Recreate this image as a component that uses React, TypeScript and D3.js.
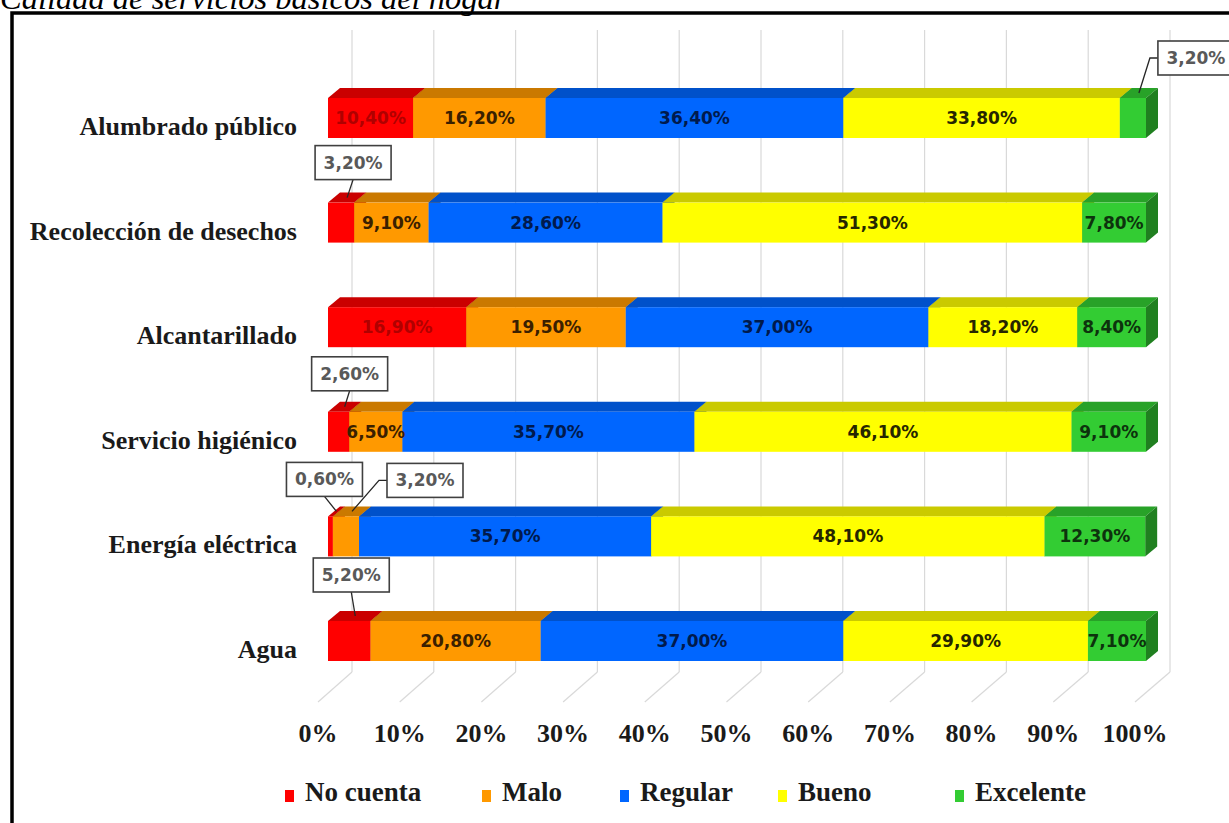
import React from "react";
import * as d3 from "d3";

const categories = [
  "Alumbrado público",
  "Recolección de desechos",
  "Alcantarillado",
  "Servicio higiénico",
  "Energía eléctrica",
  "Agua",
];
const seriesNames = ["No cuenta", "Malo", "Regular", "Bueno", "Excelente"];
const noCuenta = [10.4, 3.2, 16.9, 2.6, 0.6, 5.2];
const malo = [16.2, 9.1, 19.5, 6.5, 3.2, 20.8];
const regular = [36.4, 28.6, 37.0, 35.7, 35.7, 37.0];
const bueno = [33.8, 51.3, 18.2, 46.1, 48.1, 29.9];
const excelente = [3.2, 7.8, 8.4, 9.1, 12.3, 7.1];
const tickValues = [0, 10, 20, 30, 40, 50, 60, 70, 80, 90, 100];
const tickLabels = ["0%", "10%", "20%", "30%", "40%", "50%", "60%", "70%", "80%", "90%", "100%"];
const title = "Calidad de servicios básicos del hogar";

const colors = ["#FF0000", "#FF9900", "#0066FF", "#FFFF00", "#33CC33"];
const labelColors = ["#B00000", "#3A2000", "#001A4D", "#262600", "#0D330D"];

// callouts (labels placed outside the bar): category index, series index, box offset from anchor
const callouts = [
  { c: 0, s: 4, dx: 19, dy: -52 },
  { c: 1, s: 0, dx: -32, dy: -52 },
  { c: 3, s: 0, dx: -33, dy: -50 },
  { c: 4, s: 0, dx: -50, dy: -49 },
  { c: 4, s: 1, dx: 35, dy: -48 },
  { c: 5, s: 0, dx: -42, dy: -58 },
];

const legendX = [285, 482, 620, 778, 955];

const fmt = (v: number) => v.toFixed(2).replace(".", ",") + "%";

export default function App() {
  const W = 1229;
  const H = 823;
  const xBar = d3.scaleLinear().domain([0, 100]).range([328, 1146]);
  const xFloor = d3.scaleLinear().domain([0, 100]).range([318, 1135]);
  const xBack = d3.scaleLinear().domain([0, 100]).range([352, 1170]);
  const yRow = d3.scalePoint<string>().domain(categories).range([118, 641]);
  const barH = 40;
  const dX = 12;
  const dY = 10;

  const table = categories.map((c, i) => ({
    cat: c,
    "No cuenta": noCuenta[i],
    Malo: malo[i],
    Regular: regular[i],
    Bueno: bueno[i],
    Excelente: excelente[i],
  }));
  const stacked = d3.stack<any>().keys(seriesNames)(table);

  const isCallout = (c: number, s: number) => callouts.some((k) => k.c === c && k.s === s);

  const serif = "'Liberation Serif', 'Times New Roman', serif";
  const sans = "'DejaVu Sans', Verdana, sans-serif";

  const bars: React.ReactNode[] = [];
  const inLabels: React.ReactNode[] = [];
  categories.forEach((cat, ci) => {
    const yTop = (yRow(cat) as number) - barH / 2;
    stacked.forEach((layer, si) => {
      const d = layer[ci];
      const x0 = xBar(d[0]);
      const x1 = xBar(d[1]);
      const col = colors[si];
      const top = d3.color(col)!.darker(0.65).formatHex();
      const side = d3.color(col)!.darker(1.3).formatHex();
      bars.push(
        <g key={`b-${ci}-${si}`}>
          <polygon
            points={`${x0},${yTop} ${x0 + dX},${yTop - dY} ${x1 + dX},${yTop - dY} ${x1},${yTop}`}
            fill={top}
          />
          <polygon
            points={`${x1},${yTop} ${x1 + dX},${yTop - dY} ${x1 + dX},${yTop - dY + barH} ${x1},${yTop + barH}`}
            fill={side}
          />
          <rect x={x0} y={yTop} width={Math.max(0, x1 - x0)} height={barH} fill={col} />
        </g>
      );
      if (!isCallout(ci, si)) {
        inLabels.push(
          <text
            key={`l-${ci}-${si}`}
            x={(x0 + x1) / 2}
            y={yTop + barH / 2 + 6}
            textAnchor="middle"
            fontFamily={sans}
            fontWeight="bold"
            fontSize={17}
            fill={labelColors[si]}
          >
            {fmt(d[1] - d[0])}
          </text>
        );
      }
    });
  });

  const boxW = 76;
  const boxH = 34;
  const calloutNodes = callouts.map((k, i) => {
    const cat = categories[k.c];
    const d = stacked[k.s][k.c];
    const yTop = (yRow(cat) as number) - barH / 2;
    const ax = (xBar(d[0]) + xBar(d[1])) / 2 + dX / 2;
    const ay = yTop - dY / 2;
    const bx = ax + k.dx;
    const by = ay + k.dy;
    let pts: string;
    if (bx > ax) {
      pts = `${bx},${by + boxH / 2} ${bx - 8},${by + boxH / 2} ${ax},${ay}`;
    } else {
      pts = `${bx + boxW / 2},${by + boxH} ${ax},${ay}`;
    }
    return (
      <g key={`c-${i}`}>
        <polyline points={pts} fill="none" stroke="#262626" strokeWidth={1.3} />
        <rect x={bx} y={by} width={boxW} height={boxH} fill="#FFFFFF" stroke="#404040" strokeWidth={1.6} />
        <text
          x={bx + boxW / 2}
          y={by + boxH / 2 + 6}
          textAnchor="middle"
          fontFamily={sans}
          fontWeight="bold"
          fontSize={17}
          fill="#595959"
        >
          {fmt(d[1] - d[0])}
        </text>
      </g>
    );
  });

  return (
    <svg
      width={W}
      height={H}
      viewBox={`0 0 ${W} ${H}`}
      style={{ position: "absolute", left: 0, top: 0, background: "#fff" }}
    >
      <rect x={0} y={0} width={W} height={H} fill="#fff" />
      <text x={0} y={9} fontFamily={serif} fontStyle="italic" fontSize={32.5} fill="#000">
        {title}
      </text>
      <rect x={12} y={13} width={1400} height={1000} fill="none" stroke="#000" strokeWidth={3.5} />

      {/* gridlines: back wall + floor */}
      {tickValues.map((t) => (
        <g key={`g-${t}`}>
          <line x1={xBack(t)} y1={30} x2={xBack(t)} y2={672} stroke="#D9D9D9" strokeWidth={1.2} />
          <line x1={xBack(t)} y1={672} x2={xFloor(t)} y2={702} stroke="#D9D9D9" strokeWidth={1.2} />
        </g>
      ))}

      {bars}
      {inLabels}
      {calloutNodes}

      {/* category labels */}
      {categories.map((c) => (
        <text
          key={`cat-${c}`}
          x={297}
          y={(yRow(c) as number) + 17}
          textAnchor="end"
          fontFamily={serif}
          fontWeight="bold"
          fontSize={26}
          fill="#1A1A1A"
        >
          {c}
        </text>
      ))}

      {/* x tick labels */}
      {tickValues.map((t, i) => (
        <text
          key={`t-${t}`}
          x={xFloor(t)}
          y={742}
          textAnchor="middle"
          fontFamily={serif}
          fontWeight="bold"
          fontSize={26}
          fill="#1A1A1A"
        >
          {tickLabels[i]}
        </text>
      ))}

      {/* legend */}
      {seriesNames.map((s, i) => (
        <g key={`lg-${s}`}>
          <rect x={legendX[i]} y={790} width={9} height={12} fill={colors[i]} />
          <text
            x={legendX[i] + 20}
            y={801}
            fontFamily={serif}
            fontWeight="bold"
            fontSize={27}
            fill="#1A1A1A"
          >
            {s}
          </text>
        </g>
      ))}
    </svg>
  );
}
